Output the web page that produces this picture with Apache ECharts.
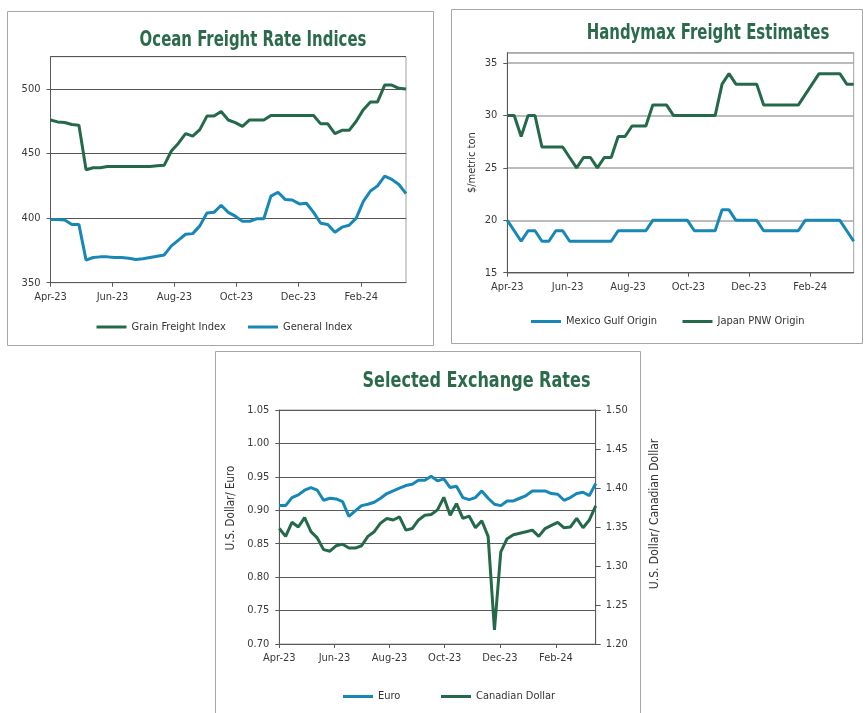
<!DOCTYPE html>
<html>
<head>
<meta charset="utf-8">
<script src="https://cdn.jsdelivr.net/npm/echarts@6/dist/echarts.min.js"></script>
<style>
html,body{margin:0;padding:0;background:#fff;}
#main{width:865px;height:713px;}
</style>
</head>
<body>
<div id="main"></div>
<script>
var FONT = "'Liberation Sans Narrow', 'DejaVu Sans Condensed', 'Roboto', sans-serif";
var GREEN = '#246a4a';
var BLUE = '#1787b6';
var DAY = 86400000;

// weekly observations starting at the beginning of April 2023
var weekStart = Date.UTC(2023, 3, 1);
var tickDates = [Date.UTC(2023, 3, 1), Date.UTC(2023, 5, 1), Date.UTC(2023, 7, 1),
                 Date.UTC(2023, 9, 1), Date.UTC(2023, 11, 1), Date.UTC(2024, 1, 1)];
var tickLabels = ['Apr-23', 'Jun-23', 'Aug-23', 'Oct-23', 'Dec-23', 'Feb-24'];

// Ocean Freight Rate Indices
var grainFreight = [476, 474.5, 474, 472.5, 472, 437.5, 439, 439, 440, 440, 440, 440, 440, 440, 440, 440.5, 441,
    452, 458, 465.5, 463.5, 468.5, 479, 479, 482.5, 476, 474, 471, 476, 476, 476, 479.5, 479.5, 479.5, 479.5,
    479.5, 479.5, 479.5, 473, 473, 465.5, 468, 468, 475, 484, 490, 490, 503, 503, 500.5, 500];
var generalIndex = [399, 399, 398.5, 395, 395, 367.5, 369.5, 370, 370, 369.5, 369.5, 369, 368, 368.5, 369.5,
    370.5, 371.5, 378.5, 383, 387.5, 388, 394, 404, 404.5, 410, 404.5, 401.5, 397.5, 397.5, 399.5, 399.5, 417,
    420, 414.5, 414, 411, 411.5, 404.5, 396, 395, 389, 393, 394.5, 400, 413, 421, 425, 432.5, 430, 426, 419];

// Handymax Freight Estimates ($/metric ton)
var mexicoGulf = [20, 19, 18, 19, 19, 18, 18, 19, 19, 18, 18, 18, 18, 18, 18, 18, 19, 19, 19, 19, 19, 20, 20,
    20, 20, 20, 20, 19, 19, 19, 19, 21, 21, 20, 20, 20, 20, 19, 19, 19, 19, 19, 19, 20, 20, 20, 20, 20, 20, 19, 18];
var japanPnw = [30, 30, 28, 30, 30, 27, 27, 27, 27, 26, 25, 26, 26, 25, 26, 26, 28, 28, 29, 29, 29, 31, 31, 31,
    30, 30, 30, 30, 30, 30, 30, 33, 34, 33, 33, 33, 33, 31, 31, 31, 31, 31, 31, 32, 33, 34, 34, 34, 34, 33, 33];

// Selected Exchange Rates
var euro = [0.907, 0.907, 0.919, 0.923, 0.930, 0.934, 0.930, 0.915, 0.918, 0.917, 0.913, 0.891, 0.899, 0.907,
    0.909, 0.912, 0.918, 0.925, 0.929, 0.933, 0.937, 0.939, 0.945, 0.945, 0.951, 0.944, 0.947, 0.934, 0.936,
    0.919, 0.916, 0.919, 0.929, 0.918, 0.909, 0.907, 0.914, 0.914, 0.918, 0.922, 0.929, 0.929, 0.929, 0.925,
    0.924, 0.915, 0.919, 0.925, 0.927, 0.922, 0.940];
var canadianDollar = [1.348, 1.338, 1.356, 1.350, 1.362, 1.344, 1.336, 1.321, 1.319, 1.326, 1.328, 1.323, 1.323,
    1.326, 1.338, 1.344, 1.355, 1.361, 1.359, 1.363, 1.346, 1.348, 1.359, 1.365, 1.366, 1.372, 1.388, 1.365,
    1.380, 1.361, 1.364, 1.349, 1.358, 1.338, 1.218, 1.318, 1.335, 1.340, 1.342, 1.344, 1.346, 1.338, 1.348,
    1.352, 1.356, 1.349, 1.350, 1.361, 1.349, 1.359, 1.377];

function weekly(values) {
    return values.map(function (v, i) { return [weekStart + i * 7 * DAY, v]; });
}

function tickLabel(v) {
    for (var i = 0; i < tickDates.length; i++) {
        if (Math.abs(tickDates[i] - v) < DAY) return tickLabels[i];
    }
    return '';
}

var axisColor = '#595959';
var labelStyle = {color: '#3a3a3a', fontFamily: FONT, fontSize: 11};

function xAxisFor(grid) {
    return {
        type: 'value', gridIndex: grid,
        min: weekStart, max: weekStart + 50 * 7 * DAY,
        axisLine: {show: true, lineStyle: {color: axisColor, width: 1}},
        axisTick: {show: true, customValues: tickDates, length: 4, lineStyle: {color: axisColor}},
        axisLabel: Object.assign({customValues: tickDates, formatter: tickLabel, margin: 9}, labelStyle),
        splitLine: {show: false}
    };
}

function legendFor(name, left, top) {
    return {
        data: [name], left: left, top: top, padding: 0, selectedMode: false,
        icon: 'rect', itemWidth: 30, itemHeight: 3,
        textStyle: {color: '#333', fontFamily: FONT, fontSize: 11}
    };
}

// condensed bold headings, squeezed horizontally to the reference width
function heading(text, cx, cy, sx) {
    return {
        type: 'text', x: cx, y: cy, scaleX: sx, scaleY: 1,
        style: {
            text: text, x: 0, y: 0, align: 'center', verticalAlign: 'middle',
            fill: '#2b6b4b', font: "bold 21px " + FONT
        }
    };
}

function sideName(text, cx, cy, size) {
    return {
        type: 'text', x: cx, y: cy, rotation: Math.PI / 2,
        style: {
            text: text, x: 0, y: 0, align: 'center', verticalAlign: 'middle',
            fill: '#333', font: size + "px " + FONT
        }
    };
}

function lineSeries(name, data, color, xi, yi) {
    return {
        name: name, type: 'line', data: weekly(data), xAxisIndex: xi, yAxisIndex: yi,
        showSymbol: false, symbol: 'none', color: color,
        lineStyle: {color: color, width: 3}
    };
}

var chart = echarts.init(document.getElementById('main'));
chart.setOption({
    animation: false,
    backgroundColor: '#fff',
    legend: [
        legendFor('Grain Freight Index', 96.5, 321.5),
        legendFor('General Index', 248, 321.5),
        legendFor('Mexico Gulf Origin', 531, 316),
        legendFor('Japan PNW Origin', 682.5, 316),
        legendFor('Euro', 343, 691),
        legendFor('Canadian Dollar', 441, 691)
    ],
    graphic: [
        {type: 'rect', shape: {x: 7.5, y: 11.5, width: 426, height: 334}, style: {fill: 'none', stroke: '#a6a6a6', lineWidth: 1}},
        {type: 'rect', shape: {x: 451.5, y: 9.5, width: 411, height: 334}, style: {fill: 'none', stroke: '#a6a6a6', lineWidth: 1}},
        {type: 'rect', shape: {x: 215.5, y: 351.5, width: 425, height: 380}, style: {fill: 'none', stroke: '#a6a6a6', lineWidth: 1}},
        heading('Ocean Freight Rate Indices', 253, 40.5, 0.79),
        heading('Handymax Freight Estimates', 708, 34, 0.79),
        heading('Selected Exchange Rates', 476.5, 382, 0.85),
        sideName('U.S. Dollar/ Euro', 231, 508, 11.5),
        sideName('U.S. Dollar/ Canadian Dollar', 655, 514, 12)
    ],
    grid: [
        {left: 50.5, right: 459, top: 56.7, bottom: 430.3, show: true, borderColor: '#a0a0a0', borderWidth: 1},
        {left: 507.3, right: 11.3, top: 52.7, bottom: 440.3, show: true, borderColor: '#a0a0a0', borderWidth: 1},
        {left: 279.3, right: 269.3, top: 410, bottom: 69, show: true, borderColor: '#a0a0a0', borderWidth: 1}
    ],
    xAxis: [xAxisFor(0), xAxisFor(1), xAxisFor(2)],
    yAxis: [
        {
            type: 'value', gridIndex: 0, min: 350, max: 525, interval: 50,
            axisLine: {show: true, lineStyle: {color: axisColor}},
            axisTick: {show: true, length: 4, lineStyle: {color: axisColor}},
            axisLabel: Object.assign({showMaxLabel: false, margin: 10}, labelStyle),
            splitLine: {lineStyle: {color: '#555', width: 1}}
        },
        {
            type: 'value', gridIndex: 1, min: 15, max: 36, interval: 5,
            name: '$/metric ton', nameLocation: 'middle', nameGap: 30, nameRotate: 90,
            nameTextStyle: {color: '#333', fontFamily: FONT, fontSize: 11},
            axisLine: {show: true, lineStyle: {color: axisColor}},
            axisTick: {show: true, length: 4, lineStyle: {color: axisColor}},
            axisLabel: Object.assign({showMaxLabel: false, margin: 10}, labelStyle),
            splitLine: {lineStyle: {color: '#a6a6a6', width: 1.5}}
        },
        {
            type: 'value', gridIndex: 2, min: 0.70, max: 1.05, interval: 0.05,
            axisLine: {show: true, lineStyle: {color: axisColor}},
            axisTick: {show: true, length: 4, lineStyle: {color: axisColor}},
            axisLabel: Object.assign({margin: 10, formatter: function (v) { return v.toFixed(2); }}, labelStyle),
            splitLine: {lineStyle: {color: '#5a5a5a', width: 1}}
        },
        {
            type: 'value', gridIndex: 2, position: 'right', min: 1.20, max: 1.50, interval: 0.05,
            axisLine: {show: true, lineStyle: {color: axisColor}},
            axisTick: {show: true, length: 5, lineStyle: {color: axisColor}},
            axisLabel: Object.assign({margin: 10, formatter: function (v) { return v.toFixed(2); }}, labelStyle),
            splitLine: {show: false}
        }
    ],
    series: [
        lineSeries('Grain Freight Index', grainFreight, GREEN, 0, 0),
        lineSeries('General Index', generalIndex, BLUE, 0, 0),
        lineSeries('Mexico Gulf Origin', mexicoGulf, BLUE, 1, 1),
        lineSeries('Japan PNW Origin', japanPnw, GREEN, 1, 1),
        lineSeries('Euro', euro, BLUE, 2, 2),
        lineSeries('Canadian Dollar', canadianDollar, GREEN, 2, 3)
    ]
});
</script>
</body>
</html>
